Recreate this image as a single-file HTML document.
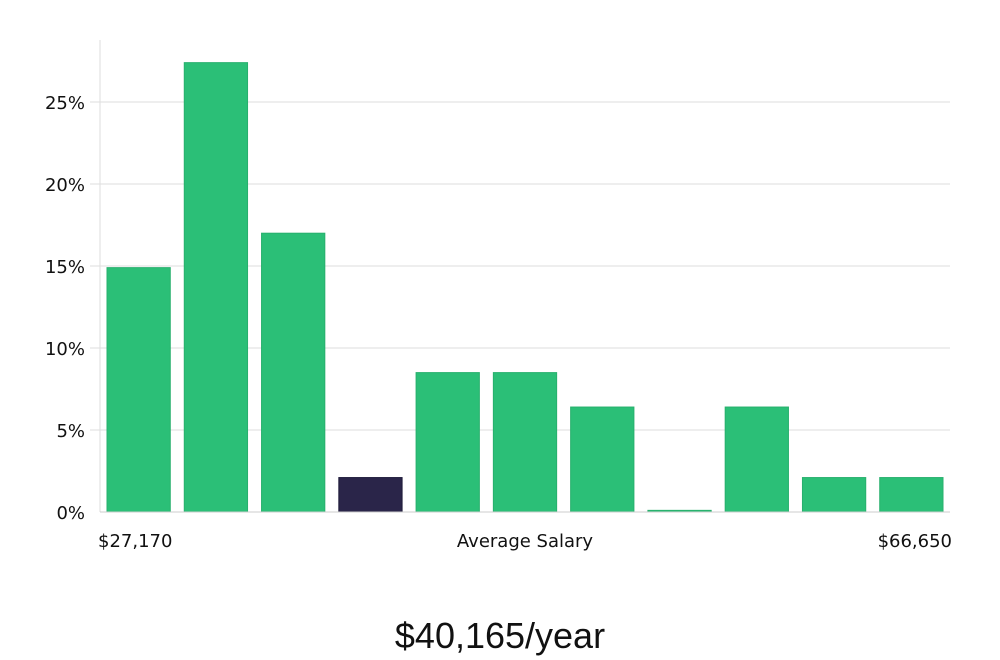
<!DOCTYPE html>
<html><head><meta charset="utf-8">
<style>
html,body{margin:0;padding:0;background:#fff;width:1000px;height:660px;overflow:hidden}
svg text{font-family:"DejaVu Sans","Liberation Sans",sans-serif}
</style></head>
<body>
<svg id="chart" width="1000" height="660" viewBox="0 0 1000 660" xmlns="http://www.w3.org/2000/svg">
<g id="grid"></g>
<g id="bars"></g>
<line x1="100" y1="40" x2="100" y2="512" stroke="#ddd" stroke-width="1"/>
<line x1="100" y1="512" x2="950" y2="512" stroke="#ccc" stroke-width="1"/>
<text x="98" y="547" font-size="18" fill="#111">$27,170</text>
<text x="525" y="547" font-size="18" fill="#111" text-anchor="middle">Average Salary</text>
<text x="952" y="547" font-size="18" fill="#111" text-anchor="end">$66,650</text>
<text x="500" y="648" font-size="36" fill="#111" text-anchor="middle" style="font-family:'Liberation Sans',sans-serif">$40,165/year</text>
</svg>
<script>
const categories = ["b1","b2","b3","b4","b5","b6","b7","b8","b9","b10","b11"];
const values = [14.9, 27.4, 17.0, 2.1, 8.5, 8.5, 6.4, 0.1, 6.4, 2.1, 2.1];
const highlightIndex = [3];
const tickValues = [0, 5, 10, 15, 20, 25];
const tickLabels = ["0%","5%","10%","15%","20%","25%"];

const NS = "http://www.w3.org/2000/svg";
const plotL = 100, plotR = 950, y0 = 512, pxPerUnit = 16.4;
function yScale(v){ return y0 - v * pxPerUnit; }
const step = (plotR - plotL) / categories.length;
function xScale(i){ return plotL + 7 + i * step; }
const barW = step - 14;

const grid = document.getElementById('grid');
tickValues.forEach((t, i) => {
  const y = yScale(t);
  if (t > 0) {
    const ln = document.createElementNS(NS, 'line');
    
    
    ln.setAttribute('x1', 90); ln.setAttribute('x2', plotR);
    ln.setAttribute('y1', y); ln.setAttribute('y2', y);
    ln.setAttribute('stroke', '#ddd'); ln.setAttribute('stroke-width', '1');
    grid.appendChild(ln);
  }
  const tx = document.createElementNS(NS, 'text');
  
  
  tx.setAttribute('x', 85); tx.setAttribute('y', y + 7);
  tx.setAttribute('text-anchor', 'end');
  tx.setAttribute('font-size', '18'); tx.setAttribute('fill', '#111');
  tx.textContent = tickLabels[i];
  grid.appendChild(tx);
});

const bars = document.getElementById('bars');
values.forEach((v, i) => {
  const r = document.createElementNS(NS, 'rect');
  
  
  const top = yScale(v);
  r.setAttribute('x', xScale(i));
  r.setAttribute('y', top);
  r.setAttribute('width', barW);
  r.setAttribute('height', Math.max(1, y0 - top));
  const hi = highlightIndex.includes(i);
  r.setAttribute('fill', hi ? '#2a2549' : '#2bbf77');
  r.setAttribute('stroke', hi ? '#1e1a3a' : '#27b06d');
  r.setAttribute('stroke-width', '1');
  bars.appendChild(r);
});
</script>
</body></html>
